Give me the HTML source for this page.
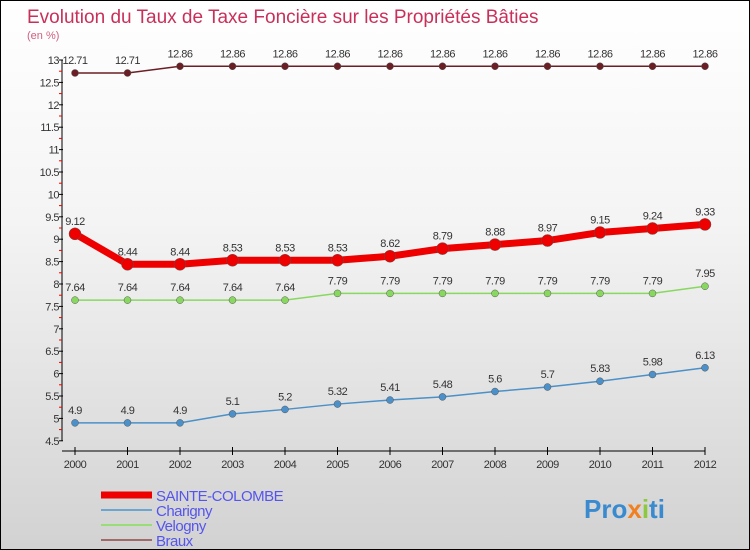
<!DOCTYPE html>
<html><head><meta charset="utf-8"><style>
body{margin:0}
#c{width:750px;height:550px;position:relative;box-sizing:border-box;border:1px solid #000;background:linear-gradient(#fff,#f4f4f4 40%,#d2d2d2);font-family:"Liberation Sans",sans-serif;overflow:hidden}
</style></head><body>
<div id="c">
<svg id="s" width="748" height="548" style="position:absolute;left:0;top:0"></svg>
</div>
<script>
const years=[2000,2001,2002,2003,2004,2005,2006,2007,2008,2009,2010,2011,2012];
const sainte=[9.12,8.44,8.44,8.53,8.53,8.53,8.62,8.79,8.88,8.97,9.15,9.24,9.33];
const charigny=[4.9,4.9,4.9,5.1,5.2,5.32,5.41,5.48,5.6,5.7,5.83,5.98,6.13];
const velogny=[7.64,7.64,7.64,7.64,7.64,7.79,7.79,7.79,7.79,7.79,7.79,7.79,7.95];
const braux=[12.71,12.71,12.86,12.86,12.86,12.86,12.86,12.86,12.86,12.86,12.86,12.86,12.86];
const yTicks=[4.5,5,5.5,6,6.5,7,7.5,8,8.5,9,9.5,10,10.5,11,11.5,12,12.5,13];
const labels={"SAINTE-COLOMBE":sainte,"Charigny":charigny,"Velogny":velogny,"Braux":braux};
const NS="http://www.w3.org/2000/svg",s=document.getElementById('s');
const X=i=>74+i*52.5, Y=v=>59+(13-v)*44.8;
function el(t,a,txt,p){const e=document.createElementNS(NS,t);for(const k in a)e.setAttribute(k,a[k]);if(txt!=null)e.textContent=txt;(p||s).appendChild(e);return e;}
let t=el('text',{x:26,y:22,fill:'#c8305a','font-size':19},'Evolution du Taux de Taxe Foncière sur les Propriétés Bâties');

t=el('text',{x:26,y:38,fill:'#d06080','font-size':11},'(en %)');

el('line',{x1:61,y1:Y(13),x2:61,y2:Y(4.5),stroke:'#000'});
el('line',{x1:61,y1:450,x2:X(12),y2:450,stroke:'#000'});
yTicks.forEach(v=>{el('line',{x1:58,x2:62,y1:Y(v),y2:Y(v),stroke:'#000'});
 if(v<13){el('line',{x1:58,x2:61,y1:Y(v+0.25),y2:Y(v+0.25),stroke:'#e00'});}
 const l=el('text',{x:58,y:Y(v)+4,'text-anchor':'end','font-size':11,fill:'#333','letter-spacing':'-0.5'},String(v));
 });
years.forEach((y,i)=>{el('line',{x1:X(i),x2:X(i),y1:446,y2:454,stroke:'#000'});
 const l=el('text',{x:X(i),y:467,'text-anchor':'middle','font-size':11,fill:'#333','letter-spacing':'-0.5'},String(y));
 });
function series(d,col,w,r,name){
 const p=el('polyline',{points:d.map((v,i)=>X(i)+','+Y(v)).join(' '),fill:'none',stroke:col,'stroke-width':w});
 
 d.forEach((v,i)=>{const c=el('circle',{cx:X(i),cy:Y(v),r:r,fill:col,stroke:'#555','stroke-width':0.5});
  
  const l=el('text',{x:X(i),y:Y(v)-9,'text-anchor':'middle','font-size':11,fill:'#333','letter-spacing':'-0.5'},String(v));
  });
}
series(braux,'#6b1f25',1.5,3.5,'braux');
series(velogny,'#88d860',1.5,3.5,'velogny');
series(charigny,'#4b90c8',1.5,3.5,'charigny');
series(sainte,'#ee0000',7,6,'sainte-colombe');
const leg=[["SAINTE-COLOMBE",'#ee0000',7],["Charigny",'#6aa6d0',2],["Velogny",'#99dd77',2],["Braux",'#a06a6a',2]];
leg.forEach((L,i)=>{const yy=494+i*15;
 el('line',{x1:100,x2:151,y1:yy,y2:yy,stroke:L[1],'stroke-width':L[2]});
 const l=el('text',{x:155,y:yy+6,'font-size':15,fill:'#5555ee','letter-spacing':'-0.5'},L[0]);
 });
const lg=el('text',{x:583,y:517,'font-size':26,'font-weight':'bold',fill:'#3a8ad0'},'');

[['Pro','#3a8ad0'],['x','#f08020'],['i','#8cc840'],['ti','#3a8ad0']].forEach(a=>el('tspan',{fill:a[1]},a[0],lg));
</script>
</body></html>
